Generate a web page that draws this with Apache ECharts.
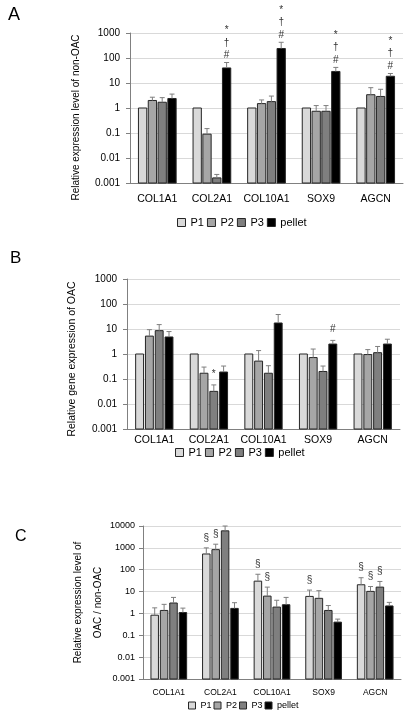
<!DOCTYPE html>
<html>
<head>
<meta charset="utf-8">
<script src="https://cdn.jsdelivr.net/npm/echarts@6/dist/echarts.min.js"></script>
<style>
  html, body { margin: 0; padding: 0; background: #fff; }
  #chart { width: 414px; height: 728px; }
</style>
</head>
<body>
<div id="chart"></div>
<script>
// categories and groups
var categories = ['COL1A1', 'COL2A1', 'COL10A1', 'SOX9', 'AGCN'];
var groupNames = ['P1', 'P2', 'P3', 'pellet'];
var groupColors = ['#d9d9d9', '#a6a6a6', '#7f7f7f', '#000000'];

// A: relative expression level of non-OAC (mean, mean + SD)
var aP1 = [1, 1, 1, 1, 1];
var aP1Err = [1, 1, 1, 1, 1];
var aP2 = [2.0, 0.09, 1.5, 0.74, 3.4];
var aP2Err = [2.7, 0.15, 2.1, 1.25, 6.5];
var aP3 = [1.7, 0.0016, 1.8, 0.74, 2.9];
var aP3Err = [2.6, 0.0022, 3.0, 1.25, 5.6];
var aPellet = [2.4, 40, 240, 29, 18.6];
var aPelletErr = [3.6, 66, 425, 42, 24];
var aPelletMarks = ['', '*\n†\n#', '*\n†\n#', '*\n†\n#', '*\n†\n#'];

// B: relative gene expression of OAC
var bP1 = [1, 1, 1, 1, 1];
var bP1Err = [1, 1, 1, 1, 1];
var bP2 = [5.2, 0.17, 0.52, 0.72, 0.95];
var bP2Err = [9.4, 0.30, 1.37, 1.58, 1.5];
var bP3 = [8.6, 0.032, 0.17, 0.2, 1.13];
var bP3Err = [15, 0.058, 0.34, 0.33, 2.0];
var bP3Marks = ['', '*', '', '', ''];
var bPellet = [4.8, 0.19, 17.4, 2.5, 2.5];
var bPelletErr = [7.9, 0.33, 38, 3.5, 3.9];
var bPelletMarks = ['', '', '', '#', ''];

// C: OAC / non-OAC
var cP1 = [0.83, 525, 30, 6.0, 20.5];
var cP1Err = [1.8, 1000, 62, 11.7, 43];
var cP1Marks = ['', '§', '§', '§', '§'];
var cP2 = [1.37, 830, 6.2, 4.9, 10.2];
var cP2Err = [2.6, 1470, 16, 11, 17];
var cP2Marks = ['', '§', '§', '', '§'];
var cP3 = [3.0, 6000, 1.95, 1.37, 16];
var cP3Err = [5.4, 10000, 4.0, 2.3, 29];
var cP3Marks = ['', '', '', '', '§'];
var cPellet = [1.1, 1.7, 2.5, 0.4, 2.2];
var cPelletErr = [1.75, 3.1, 5.4, 0.55, 3.2];

var FONT = '"Liberation Sans", Arial, sans-serif';
var chart = echarts.init(document.getElementById('chart'));

function makeRender(g, lay, marks) {
  return function (params, api) {
    var cat = api.value(0), val = api.value(1), err = api.value(2);
    var top = api.coord([cat, val]);
    var cs = params.coordSys;
    var cx = top[0] + (g - 1.5) * lay.step;
    var bottom = cs.y + cs.height;
    var kids = [{
      type: 'rect',
      shape: { x: cx - lay.w / 2, y: top[1], width: lay.w, height: bottom - top[1] },
      style: { fill: groupColors[g], stroke: '#262626', lineWidth: 1 }
    }];
    var markY = top[1];
    if (err > val) {
      var ey = api.coord([cat, err])[1];
      markY = ey;
      kids.push({
        type: 'polyline',
        shape: { points: [[cx, top[1]], [cx, ey]] },
        style: { stroke: '#7f7f7f', lineWidth: 1, fill: null }
      });
      kids.push({
        type: 'line',
        shape: { x1: cx - 2.5, y1: ey, x2: cx + 2.5, y2: ey },
        style: { stroke: '#7f7f7f', lineWidth: 1 }
      });
    }
    var m = marks ? marks[params.dataIndex] : '';
    if (m) {
      kids.push({
        type: 'text',
        style: {
          text: m, x: cx, y: markY - lay.markGap,
          align: 'center', verticalAlign: 'bottom',
          textAlign: 'center', textVerticalAlign: 'bottom',
          fontSize: lay.markSize, lineHeight: lay.markLine,
          fontFamily: FONT, fill: '#333'
        }
      });
    }
    return { type: 'group', children: kids };
  };
}

var series = [];
function addPanel(idx, vals, errs, marks, lay) {
  for (var g = 0; g < 4; g++) {
    series.push({
      name: groupNames[g],
      type: 'custom',
      xAxisIndex: idx,
      yAxisIndex: idx,
      renderItem: makeRender(g, lay, marks[g]),
      encode: { x: 0, y: 1 },
      itemStyle: { color: groupColors[g] },
      data: vals[g].map(function (v, i) { return [i, v, errs[g][i]]; })
    });
  }
}

addPanel(0, [aP1, aP2, aP3, aPellet], [aP1Err, aP2Err, aP3Err, aPelletErr],
  [null, null, null, aPelletMarks],
  { step: 9.8, w: 8.3, markGap: 1, markSize: 10, markLine: 12.5 });
addPanel(1, [bP1, bP2, bP3, bPellet], [bP1Err, bP2Err, bP3Err, bPelletErr],
  [null, null, bP3Marks, bPelletMarks],
  { step: 9.8, w: 7.9, markGap: 5, markSize: 10, markLine: 12 });
addPanel(2, [cP1, cP2, cP3, cPellet], [cP1Err, cP2Err, cP3Err, cPelletErr],
  [cP1Marks, cP2Marks, cP3Marks, null],
  { step: 9.4, w: 7.5, markGap: 4, markSize: 10, markLine: 12 });

function logLabel(v) {
  return v >= 1 ? String(Math.round(v)) : String(Number(v.toPrecision(1)));
}

function xAxisOf(idx, size, margin) {
  return {
    type: 'category', gridIndex: idx, data: categories,
    axisTick: { show: false },
    axisLine: { lineStyle: { color: '#808080', width: 1 } },
    axisLabel: { interval: 0, fontSize: size, color: '#000', fontFamily: FONT, margin: margin }
  };
}

function yAxisOf(idx, max, name, nameSize, gap, pad, labelSize, labelMargin, lineH) {
  return {
    type: 'log', logBase: 10, gridIndex: idx, min: 0.001, max: max,
    name: name, nameLocation: 'middle', nameGap: gap, nameMoveOverlap: false,
    nameTextStyle: { fontSize: nameSize, color: '#000', fontFamily: FONT, padding: pad, lineHeight: lineH },
    axisLine: { show: true, lineStyle: { color: '#808080' } },
    axisTick: { show: true, length: 4, lineStyle: { color: '#808080' } },
    axisLabel: { fontSize: labelSize, color: '#000', fontFamily: FONT, margin: labelMargin, formatter: logLabel },
    splitLine: { show: true, lineStyle: { color: '#d9d9d9', width: 1 } },
    minorTick: { show: false }
  };
}

function legendOf(left, top, size, icon, gap) {
  return {
    left: left, top: top, itemWidth: icon, itemHeight: icon, itemGap: gap,
    textStyle: { fontSize: size, color: '#000', fontFamily: FONT },
    data: groupNames.map(function (n, i) {
      return { name: n, icon: 'rect', itemStyle: { color: groupColors[i], borderColor: '#262626', borderWidth: 1 } };
    })
  };
}

chart.setOption({
  animation: false,
  grid: [
    { left: 130, top: 33, width: 273, height: 150 },
    { left: 127, top: 279, width: 273, height: 150 },
    { left: 143, top: 526, width: 258, height: 153 }
  ],
  xAxis: [xAxisOf(0, 10.5, 11), xAxisOf(1, 10.5, 6), xAxisOf(2, 8.5, 9)],
  yAxis: [
    yAxisOf(0, 1000, 'Relative expression level of non-OAC', 10, 49, [0, 19, 0, 0], 10, 10),
    yAxisOf(1, 1000, 'Relative gene expression of OAC', 10.5, 49, [0, 10, 0, 0], 10, 10),
    yAxisOf(2, 10000, 'Relative expression level of\nOAC / non-OAC', 10, 35, [0, 0, 0, 0], 9, 8, 20)
  ],
  legend: [
    legendOf(172, 212, 11, 8, 3),
    legendOf(170, 442, 11, 8, 3),
    legendOf(183, 696, 9, 7, 2)
  ],
  graphic: [
    { type: 'text', left: 8, top: 6, style: { text: 'A', fontSize: 18, fontFamily: FONT, fill: '#000' } },
    { type: 'text', left: 10, top: 250, style: { text: 'B', fontSize: 17, fontFamily: FONT, fill: '#000' } },
    { type: 'text', left: 15, top: 529, style: { text: 'C', fontSize: 16, fontFamily: FONT, fill: '#000' } }
  ],
  series: series
});

window.addEventListener('resize', function () {
  chart.resize();
});
</script>
</body>
</html>
